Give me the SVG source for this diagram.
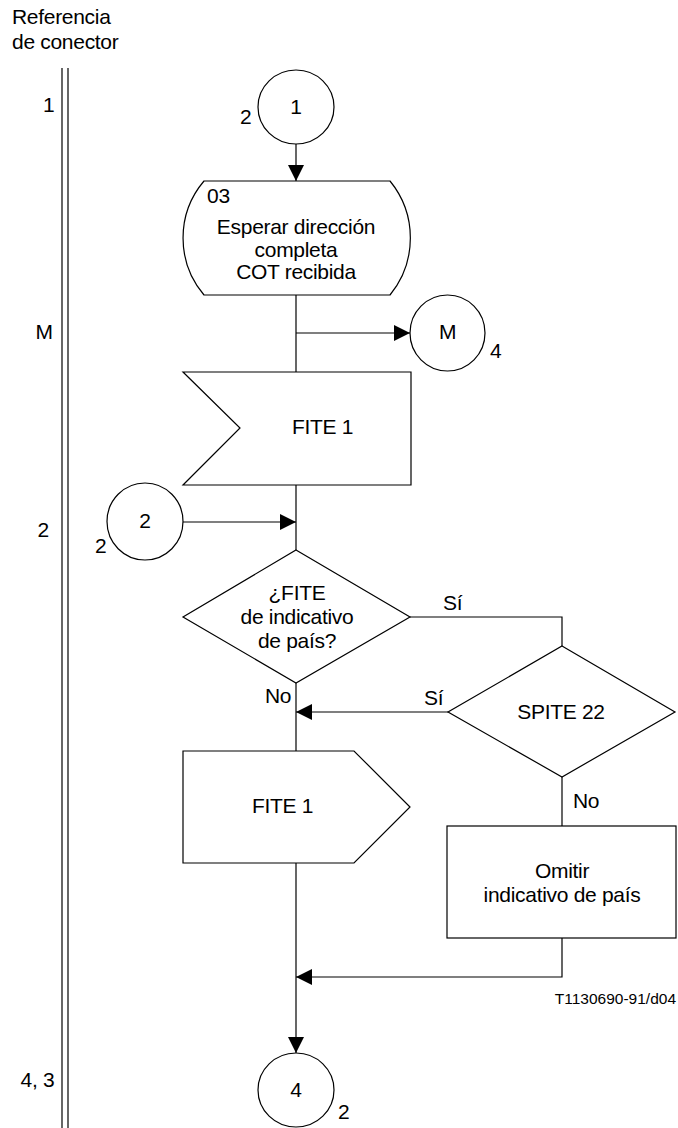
<svg xmlns="http://www.w3.org/2000/svg" width="678" height="1128" viewBox="0 0 678 1128">
<style>
text{font-family:"Liberation Sans",Arial,sans-serif;font-size:21px;letter-spacing:-0.3px;fill:#000}
.c{text-anchor:middle}
.s{fill:#fff;stroke:#000;stroke-width:1.2}
.l{fill:none;stroke:#000;stroke-width:1.2}
.code{font-size:15.5px;letter-spacing:0;text-anchor:end}
</style>
<defs>
<marker id="ah" viewBox="0 0 16 16" refX="16" refY="8" markerWidth="16" markerHeight="16" markerUnits="userSpaceOnUse" orient="auto">
<path d="M0,0 L16,8 L0,16 z" fill="#000"/>
</marker>
</defs>
<rect width="678" height="1128" fill="#fff"/>
<g id="reference-column">
<text x="12" y="24">Referencia</text>
<text x="12" y="49">de conector</text>
<line x1="62" y1="68" x2="62" y2="1128" class="l"/>
<line x1="68" y1="68" x2="68" y2="1128" class="l"/>
<text x="43" y="112">1</text>
<text x="35.5" y="339">M</text>
<text x="37.5" y="537">2</text>
<text x="20.5" y="1087">4, 3</text>
</g>
<g id="connectors">
<line x1="296" y1="144" x2="296" y2="181" class="l" marker-end="url(#ah)"/>
<line x1="296" y1="295" x2="296" y2="372" class="l"/>
<line x1="296" y1="333" x2="410" y2="333" class="l" marker-end="url(#ah)"/>
<line x1="296" y1="485" x2="296" y2="550" class="l"/>
<line x1="183" y1="522" x2="296" y2="522" class="l" marker-end="url(#ah)"/>
<polyline points="410,617 562,617 562,646" class="l"/>
<line x1="296" y1="683" x2="296" y2="751" class="l"/>
<line x1="448" y1="712" x2="296" y2="712" class="l" marker-end="url(#ah)"/>
<line x1="562" y1="777" x2="562" y2="826" class="l"/>
<polyline points="562,938 562,977 296,977" class="l" marker-end="url(#ah)"/>
<line x1="296" y1="863" x2="296" y2="1053" class="l" marker-end="url(#ah)"/>
<text x="443" y="610">Sí</text>
<text x="424" y="705">Sí</text>
<text x="265" y="703">No</text>
<text x="573" y="808">No</text>
</g>
<g id="conn-1">
<ellipse cx="296" cy="107" rx="38" ry="37" class="s"/>
<text x="296" y="114" class="c">1</text>
<text x="240" y="124">2</text>
</g>
<g id="state-03">
<path d="M204,181 H390 A90,90 0 0 1 390,295 H204 A88,88 0 0 1 204,181 Z" class="s"/>
<text x="207" y="203">03</text>
<text x="296" y="234" class="c">Esperar dirección</text>
<text x="296" y="257" class="c">completa</text>
<text x="296" y="279" class="c">COT recibida</text>
</g>
<g id="conn-M">
<ellipse cx="447.5" cy="333" rx="37.5" ry="38" class="s"/>
<text x="447.5" y="339" class="c">M</text>
<text x="490" y="358">4</text>
</g>
<g id="input-fite1">
<polygon points="183,372 411,372 411,485 183,485 240,428" class="s"/>
<text x="322.5" y="434" class="c">FITE 1</text>
</g>
<g id="conn-2">
<ellipse cx="145" cy="521.5" rx="38" ry="38.5" class="s"/>
<text x="145" y="528" class="c">2</text>
<text x="95" y="553">2</text>
</g>
<g id="decision-fite">
<polygon points="296,550 410,617 296,683 183,617" class="s"/>
<text x="297" y="600" class="c">¿FITE</text>
<text x="297" y="624" class="c">de indicativo</text>
<text x="297" y="648" class="c">de país?</text>
</g>
<g id="decision-spite">
<polygon points="562,646 675,712 562,777 448,712" class="s"/>
<text x="561" y="719" class="c">SPITE 22</text>
</g>
<g id="output-fite1">
<polygon points="183,751 354,751 410,807 354,863 183,863" class="s"/>
<text x="282.5" y="813" class="c">FITE 1</text>
</g>
<g id="task-omitir">
<rect x="447" y="826" width="229" height="112" class="s"/>
<text x="562" y="878" class="c">Omitir</text>
<text x="562" y="902" class="c">indicativo de país</text>
</g>
<g id="conn-4">
<ellipse cx="296" cy="1090" rx="38" ry="37" class="s"/>
<text x="296" y="1097" class="c">4</text>
<text x="338" y="1119">2</text>
</g>
<text x="676" y="1004" class="code">T1130690-91/d04</text>
</svg>
